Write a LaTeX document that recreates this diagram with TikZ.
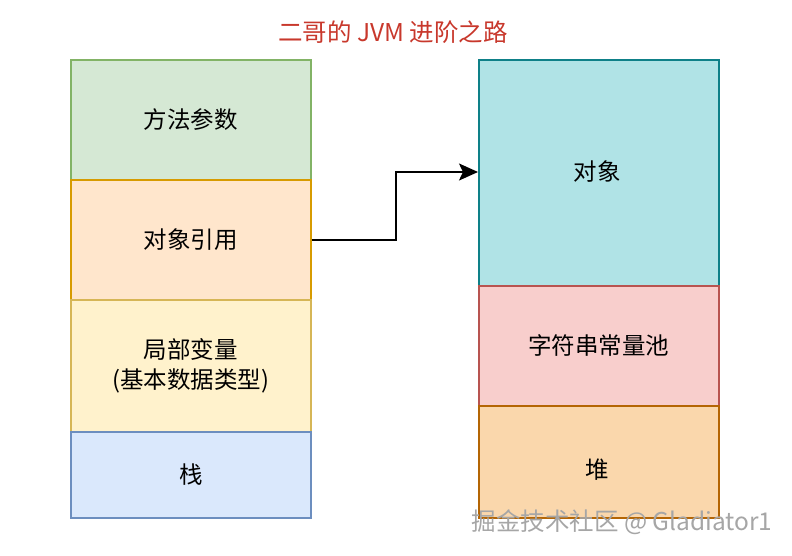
\documentclass[tikz,border=0pt]{standalone}
\usepackage{fontspec}
\setmainfont{Noto Sans CJK SC}
\newfontfamily\cjk{Noto Sans CJK SC}
\usetikzlibrary{arrows.meta}
\definecolor{gfill}{HTML}{D5E8D4}\definecolor{gline}{HTML}{82B366}
\definecolor{ofill}{HTML}{FFE6CC}\definecolor{oline}{HTML}{D79B00}
\definecolor{yfill}{HTML}{FFF2CC}\definecolor{yline}{HTML}{D6B656}
\definecolor{bfill}{HTML}{DAE8FC}\definecolor{bline}{HTML}{6C8EBF}
\definecolor{tfill}{HTML}{B0E3E6}\definecolor{tline}{HTML}{0E8088}
\definecolor{rfill}{HTML}{F8CECC}\definecolor{rline}{HTML}{B85450}
\definecolor{hfill}{HTML}{FAD7AC}\definecolor{hline}{HTML}{B46504}
\definecolor{titlered}{HTML}{C8382C}
\begin{document}
\begin{tikzpicture}[x=1pt,y=-1pt,
  cell/.style={draw, line width=1.7pt, minimum width=240pt, inner sep=0pt, anchor=north west, font=\fontsize{23.5}{30}\selectfont, align=center, text=black},
  lbl/.style={font=\fontsize{23.5}{30}\selectfont, text=black},
  conn/.style={draw, line width=1.8pt, -{Stealth[length=19pt,width=17pt,inset=4pt]}}]
\useasboundingbox (0,0) rectangle (792,556);
\node[font=\fontsize{24.5}{28}\selectfont, text=titlered] (title) at (393,32) {二哥的 JVM 进阶之路};
% left stack
\node[cell, fill=gfill, draw=gline, minimum height=120pt] (params) at (70,59) {方法参数};
\node[cell, fill=ofill, draw=oline, minimum height=120pt] (ref) at (70,179) {对象引用};
\node[cell, fill=yfill, draw=yline, minimum height=132pt] (local) at (70,299) {局部变量\\(基本数据类型)};
\node[cell, fill=bfill, draw=bline, minimum height=86pt] (stack) at (70,431) {栈};
% right stack
\node[cell, fill=tfill, draw=tline, minimum height=226pt] (obj) at (478,59) {};
\node[lbl] (objlabel) at (597,172) {对象};
\node[cell, fill=rfill, draw=rline, minimum height=120pt] (pool) at (478,285) {字符串常量池};
\node[cell, fill=hfill, draw=hline, minimum height=112pt] (heap) at (478,405) {};
\node[lbl] (heaplabel) at (597,470) {堆};
% arrow
\coordinate (target) at (478,172);
\draw[conn] (ref.east) -- ++(84,0) |- (target);
% watermark
\node[font=\fontsize{24.5}{28}\selectfont, text=gray!70, anchor=west] (wm) at (468,522) {掘金技术社区 @ Gladiator1};
\end{tikzpicture}
\end{document}
